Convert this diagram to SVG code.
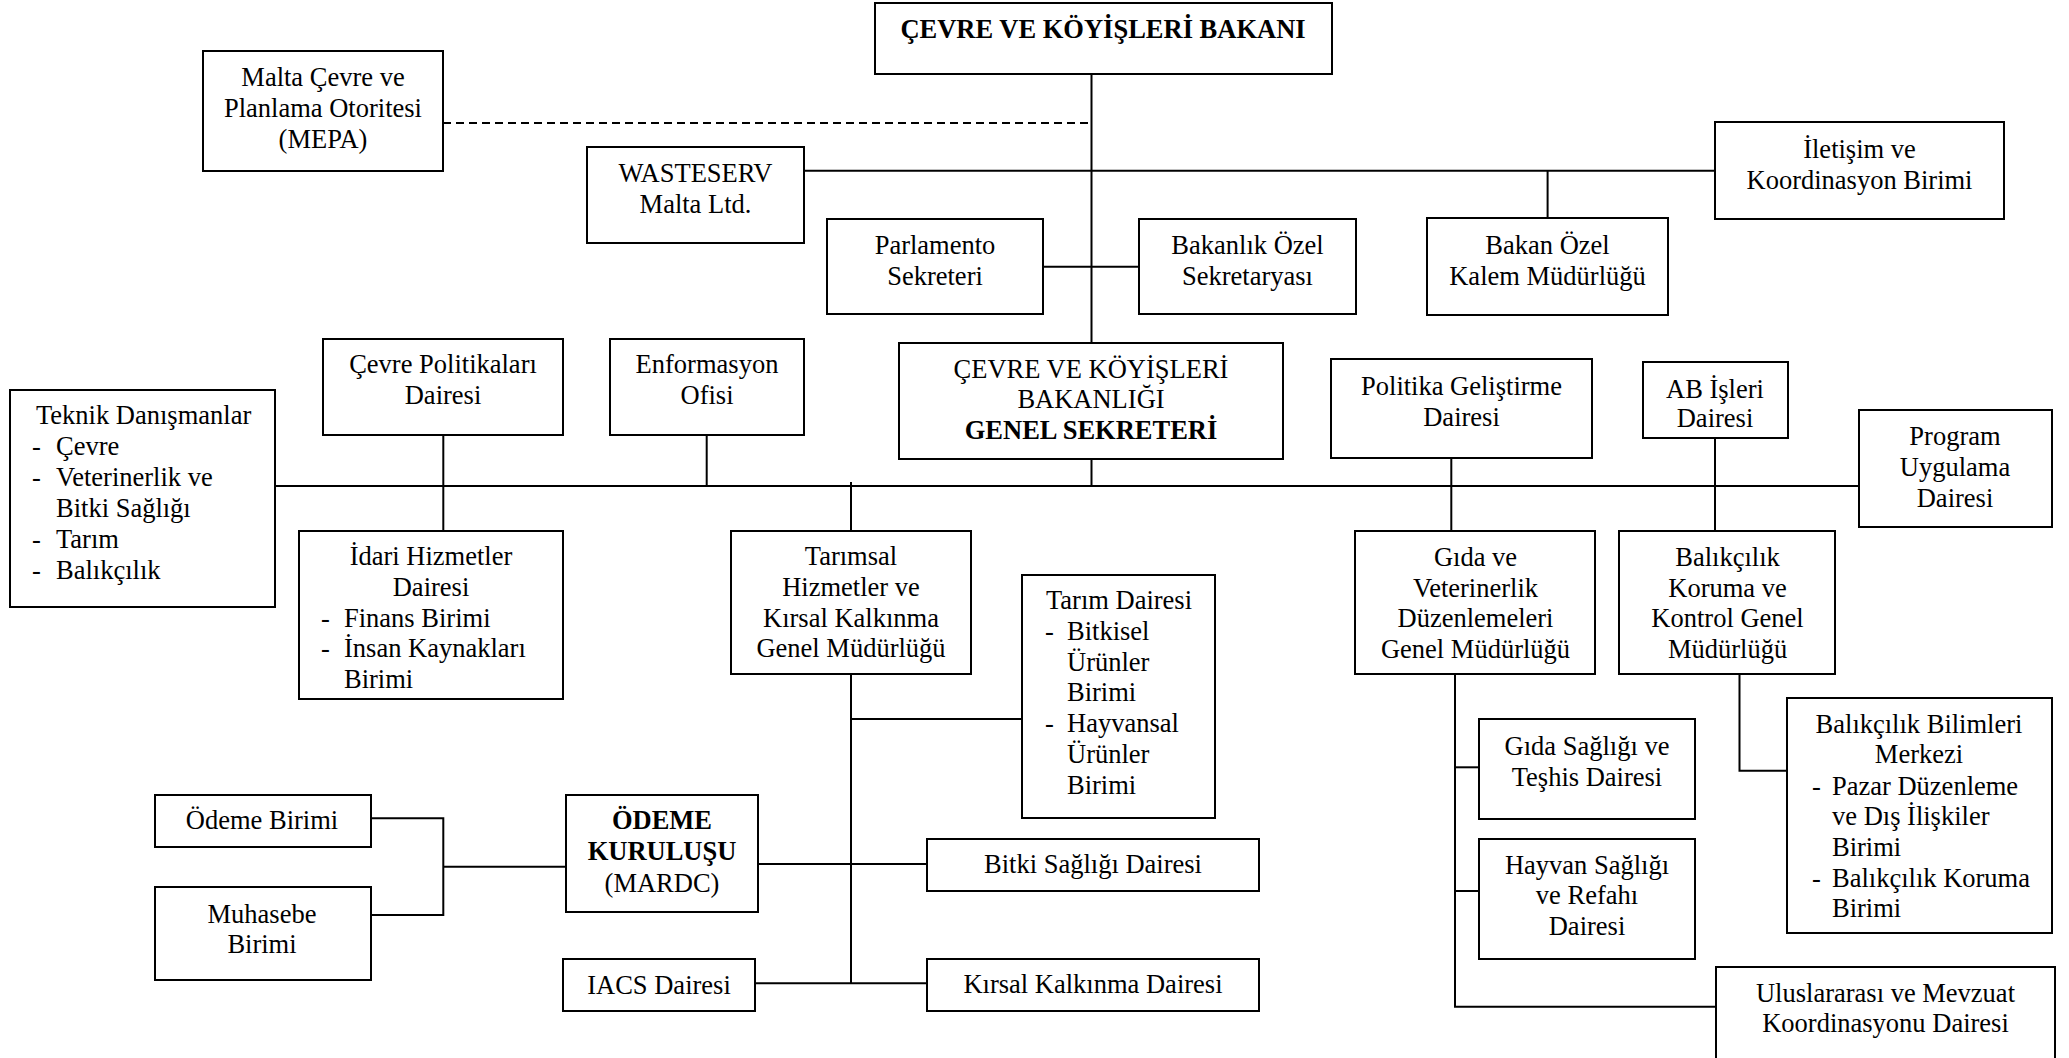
<svg xmlns="http://www.w3.org/2000/svg" width="2069" height="1058" viewBox="0 0 2069 1058">
  <style>
    .box { fill: #ffffff; stroke: #000000; stroke-width: 2; }
    .ln { fill: none; stroke: #000000; stroke-width: 2; }
    .dash { fill: none; stroke: #000000; stroke-width: 2; stroke-dasharray: 8 5; }
    .t { font-family: 'Liberation Serif', 'DejaVu Serif', serif; font-size: 26.5px; fill: #000000; }
    .c { text-anchor: middle; }
    .b { font-weight: bold; }
  </style>
  <rect x="0" y="0" width="2069" height="1058" fill="#ffffff"/>

  <!-- connectors -->
  <g id="connectors">
    <line class="dash" x1="443" y1="123" x2="1091.5" y2="123"/>
    <line class="ln" x1="1091.5" y1="74" x2="1091.5" y2="343"/>
    <line class="ln" x1="1091.5" y1="459" x2="1091.5" y2="486"/>
    <line class="ln" x1="804" y1="170.7" x2="1715" y2="170.7"/>
    <line class="ln" x1="1547.6" y1="170.7" x2="1547.6" y2="218"/>
    <line class="ln" x1="1043" y1="266.7" x2="1139" y2="266.7"/>
    <line class="ln" x1="275" y1="486" x2="1859" y2="486"/>
    <line class="ln" x1="443.3" y1="435" x2="443.3" y2="531"/>
    <line class="ln" x1="706.7" y1="435" x2="706.7" y2="486"/>
    <line class="ln" x1="851" y1="482" x2="851" y2="531"/>
    <line class="ln" x1="1451.3" y1="458" x2="1451.3" y2="531"/>
    <line class="ln" x1="1715" y1="434" x2="1715" y2="531"/>
    <line class="ln" x1="851" y1="674" x2="851" y2="983.3"/>
    <line class="ln" x1="851" y1="719" x2="1022" y2="719"/>
    <line class="ln" x1="758" y1="864" x2="927" y2="864"/>
    <line class="ln" x1="755" y1="983.3" x2="927" y2="983.3"/>
    <path class="ln" d="M371,818.3 H443.3 V915 H371"/>
    <line class="ln" x1="443.3" y1="866.7" x2="566" y2="866.7"/>
    <path class="ln" d="M1455,671 V1006.7 H1716"/>
    <line class="ln" x1="1455" y1="767.3" x2="1479" y2="767.3"/>
    <line class="ln" x1="1455" y1="891" x2="1479" y2="891"/>
    <path class="ln" d="M1739.5,671 V770.7 H1787"/>
  </g>

  <!-- nodes -->
  <g class="t" font-family="Liberation Serif, DejaVu Serif, serif">
  <g id="bakan">
    <rect class="box" x="875" y="3" width="457" height="71"/>
    <text class="c b" x="1103" y="38">ÇEVRE VE KÖYİŞLERİ BAKANI</text>
  </g>
  <g id="mepa">
    <rect class="box" x="203" y="51" width="240" height="120"/>
    <text class="c" x="323" y="86">Malta Çevre ve</text>
    <text class="c" x="323" y="117">Planlama Otoritesi</text>
    <text class="c" x="323" y="148">(MEPA)</text>
  </g>
  <g id="wasteserv">
    <rect class="box" x="587" y="147" width="217" height="96"/>
    <text class="c" x="695.5" y="182">WASTESERV</text>
    <text class="c" x="695.5" y="213">Malta Ltd.</text>
  </g>
  <g id="iletisim">
    <rect class="box" x="1715" y="122" width="289" height="97"/>
    <text class="c" x="1859.5" y="158">İletişim ve</text>
    <text class="c" x="1859.5" y="189">Koordinasyon Birimi</text>
  </g>
  <g id="parlamento">
    <rect class="box" x="827" y="219" width="216" height="95"/>
    <text class="c" x="935" y="254">Parlamento</text>
    <text class="c" x="935" y="285">Sekreteri</text>
  </g>
  <g id="bakanlik-ozel">
    <rect class="box" x="1139" y="219" width="217" height="95"/>
    <text class="c" x="1247.5" y="254">Bakanlık Özel</text>
    <text class="c" x="1247.5" y="285">Sekretaryası</text>
  </g>
  <g id="bakan-ozel-kalem">
    <rect class="box" x="1427" y="218" width="241" height="97"/>
    <text class="c" x="1547.5" y="254">Bakan Özel</text>
    <text class="c" x="1547.5" y="285">Kalem Müdürlüğü</text>
  </g>
  <g id="genel-sekreter">
    <rect class="box" x="899" y="343" width="384" height="116"/>
    <text class="c" x="1091" y="378">ÇEVRE VE KÖYİŞLERİ</text>
    <text class="c" x="1091" y="408">BAKANLIĞI</text>
    <text class="c b" x="1091" y="439">GENEL SEKRETERİ</text>
  </g>
  <g id="teknik">
    <rect class="box" x="10" y="390" width="265" height="217"/>
    <text x="36" y="424">Teknik Danışmanlar</text>
    <text x="32" y="455">-</text><text x="56" y="455">Çevre</text>
    <text x="32" y="486">-</text><text x="56" y="486">Veterinerlik ve</text>
    <text x="56" y="517">Bitki Sağlığı</text>
    <text x="32" y="548">-</text><text x="56" y="548">Tarım</text>
    <text x="32" y="579">-</text><text x="56" y="579">Balıkçılık</text>
  </g>
  <g id="cevre-politikalari">
    <rect class="box" x="323" y="339" width="240" height="96"/>
    <text class="c" x="443" y="373">Çevre Politikaları</text>
    <text class="c" x="443" y="404">Dairesi</text>
  </g>
  <g id="enformasyon">
    <rect class="box" x="610" y="339" width="194" height="96"/>
    <text class="c" x="707" y="373">Enformasyon</text>
    <text class="c" x="707" y="404">Ofisi</text>
  </g>
  <g id="politika">
    <rect class="box" x="1331" y="359" width="261" height="99"/>
    <text class="c" x="1461.5" y="395">Politika Geliştirme</text>
    <text class="c" x="1461.5" y="426">Dairesi</text>
  </g>
  <g id="ab-isleri">
    <rect class="box" x="1643" y="362" width="145" height="76"/>
    <text class="c" x="1715" y="398">AB İşleri</text>
    <text class="c" x="1715" y="427">Dairesi</text>
  </g>
  <g id="program">
    <rect class="box" x="1859" y="410" width="193" height="117"/>
    <text class="c" x="1955" y="445">Program</text>
    <text class="c" x="1955" y="476">Uygulama</text>
    <text class="c" x="1955" y="507">Dairesi</text>
  </g>
  <g id="idari">
    <rect class="box" x="299" y="531" width="264" height="168"/>
    <text class="c" x="431" y="565">İdari Hizmetler</text>
    <text class="c" x="431" y="596">Dairesi</text>
    <text x="321" y="627">-</text><text x="344" y="627">Finans Birimi</text>
    <text x="321" y="657">-</text><text x="344" y="657">İnsan Kaynakları</text>
    <text x="344" y="688">Birimi</text>
  </g>
  <g id="tarimsal">
    <rect class="box" x="731" y="531" width="240" height="143"/>
    <text class="c" x="851" y="565">Tarımsal</text>
    <text class="c" x="851" y="596">Hizmetler ve</text>
    <text class="c" x="851" y="627">Kırsal Kalkınma</text>
    <text class="c" x="851" y="657">Genel Müdürlüğü</text>
  </g>
  <g id="tarim-dairesi">
    <rect class="box" x="1022" y="575" width="193" height="243"/>
    <text x="1046" y="609">Tarım Dairesi</text>
    <text x="1045" y="640">-</text><text x="1067" y="640">Bitkisel</text>
    <text x="1067" y="671">Ürünler</text>
    <text x="1067" y="701">Birimi</text>
    <text x="1045" y="732">-</text><text x="1067" y="732">Hayvansal</text>
    <text x="1067" y="763">Ürünler</text>
    <text x="1067" y="794">Birimi</text>
  </g>
  <g id="gida-veterinerlik">
    <rect class="box" x="1355" y="531" width="240" height="143"/>
    <text class="c" x="1475.5" y="566">Gıda ve</text>
    <text class="c" x="1475.5" y="597">Veterinerlik</text>
    <text class="c" x="1475.5" y="627">Düzenlemeleri</text>
    <text class="c" x="1475.5" y="658">Genel Müdürlüğü</text>
  </g>
  <g id="balikcilik">
    <rect class="box" x="1619" y="531" width="216" height="143"/>
    <text class="c" x="1727.5" y="566">Balıkçılık</text>
    <text class="c" x="1727.5" y="597">Koruma ve</text>
    <text class="c" x="1727.5" y="627">Kontrol Genel</text>
    <text class="c" x="1727.5" y="658">Müdürlüğü</text>
  </g>
  <g id="odeme-birimi">
    <rect class="box" x="155" y="795" width="216" height="52"/>
    <text class="c" x="262" y="829">Ödeme Birimi</text>
  </g>
  <g id="muhasebe">
    <rect class="box" x="155" y="887" width="216" height="93"/>
    <text class="c" x="262" y="923">Muhasebe</text>
    <text class="c" x="262" y="953">Birimi</text>
  </g>
  <g id="odeme-kurulusu">
    <rect class="box" x="566" y="795" width="192" height="117"/>
    <text class="c b" x="662" y="829">ÖDEME</text>
    <text class="c b" x="662" y="860">KURULUŞU</text>
    <text class="c" x="662" y="892">(MARDC)</text>
  </g>
  <g id="bitki-sagligi">
    <rect class="box" x="927" y="839" width="332" height="52"/>
    <text class="c" x="1093" y="873">Bitki Sağlığı Dairesi</text>
  </g>
  <g id="iacs">
    <rect class="box" x="563" y="959" width="192" height="52"/>
    <text class="c" x="659" y="994">IACS Dairesi</text>
  </g>
  <g id="kirsal">
    <rect class="box" x="927" y="959" width="332" height="52"/>
    <text class="c" x="1093" y="993">Kırsal Kalkınma Dairesi</text>
  </g>
  <g id="gida-sagligi">
    <rect class="box" x="1479" y="719" width="216" height="100"/>
    <text class="c" x="1587" y="755">Gıda Sağlığı ve</text>
    <text class="c" x="1587" y="786">Teşhis Dairesi</text>
  </g>
  <g id="hayvan-sagligi">
    <rect class="box" x="1479" y="839" width="216" height="120"/>
    <text class="c" x="1587" y="874">Hayvan Sağlığı</text>
    <text class="c" x="1587" y="904">ve Refahı</text>
    <text class="c" x="1587" y="935">Dairesi</text>
  </g>
  <g id="balikcilik-bilimleri">
    <rect class="box" x="1787" y="698" width="265" height="235"/>
    <text class="c" x="1919" y="733">Balıkçılık Bilimleri</text>
    <text class="c" x="1919" y="763">Merkezi</text>
    <text x="1812" y="795">-</text><text x="1832" y="795">Pazar Düzenleme</text>
    <text x="1832" y="825">ve Dış İlişkiler</text>
    <text x="1832" y="856">Birimi</text>
    <text x="1812" y="887">-</text><text x="1832" y="887">Balıkçılık Koruma</text>
    <text x="1832" y="917">Birimi</text>
  </g>
  <g id="uluslararasi">
    <rect class="box" x="1716" y="967" width="339" height="120"/>
    <text class="c" x="1885.5" y="1002">Uluslararası ve Mevzuat</text>
    <text class="c" x="1885.5" y="1032">Koordinasyonu Dairesi</text>
  </g>
  </g>
</svg>
